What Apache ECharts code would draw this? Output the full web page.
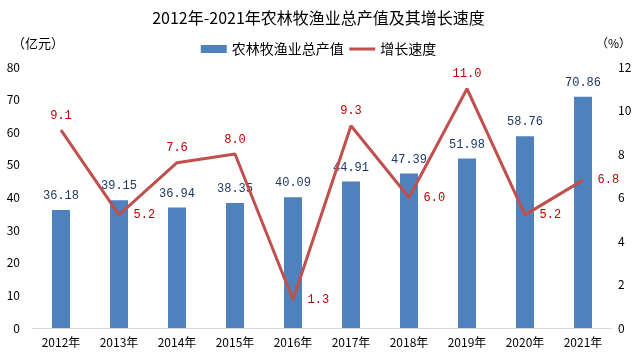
<!DOCTYPE html>
<html><head><meta charset="utf-8">
<script src="https://cdn.jsdelivr.net/npm/echarts@6/dist/echarts.min.js"></script>
<style>html,body{margin:0;padding:0;background:#fff}#c{width:637px;height:356px}</style>
</head><body><div id="c"></div>
<script>
const categories = ['2012年','2013年','2014年','2015年','2016年','2017年','2018年','2019年','2020年','2021年'];
const outputValues = [36.18,39.15,36.94,38.35,40.09,44.91,47.39,51.98,58.76,70.86];
const growthRates = [9.1,5.2,7.6,8.0,1.3,9.3,6.0,11.0,5.2,6.8];
const growthLabelPos = ['top','right','top','top','right','top','right','top','right','right'];
const leftTicks = [0,10,20,30,40,50,60,70,80];
const rightTicks = [0,2,4,6,8,10,12];

const font = '"Noto Sans CJK SC", "Noto Sans", sans-serif';
const mono = '"Liberation Mono", "DejaVu Sans Mono", monospace';
const chart = echarts.init(document.getElementById('c'));
chart.setOption({
  animation: false,
  textStyle: {fontFamily: font},
  title: {text: '2012年-2021年农林牧渔业总产值及其增长速度', left: 'center', top: 5,
    textStyle: {fontSize: 16, fontWeight: 'normal', color: '#000', fontFamily: font}},
  legend: {top: 37, left: 'center', itemWidth: 26, itemHeight: 8, itemGap: 4,
    textStyle: {fontSize: 14, color: '#000'},
    data: [{name: '农林牧渔业总产值', icon: 'rect'},
           {name: '增长速度', itemStyle: {opacity: 0}, lineStyle: {color: '#c0504d', width: 3, opacity: 1}}]},
  graphic: [
    {type: 'text', left: 12, top: 37, style: {text: '（亿元）', font: '13px ' + font, fill: '#000'}},
    {type: 'text', left: 596, top: 37, style: {text: '（%）', font: '12px ' + font, fill: '#000'}}
  ],
  grid: {left: 32, right: 25, top: 67, bottom: 28},
  xAxis: {type: 'category', data: categories,
    axisLine: {lineStyle: {color: '#d9d9d9'}}, axisTick: {show: false},
    axisLabel: {color: '#000', fontSize: 12, margin: 8}},
  yAxis: [
    {type: 'value', min: 0, max: 80, interval: 10, splitLine: {show: false},
      axisLabel: {color: '#000', fontSize: 12, margin: 12}, axisLine: {show: false}},
    {type: 'value', min: 0, max: 12, interval: 2, splitLine: {show: false},
      axisLabel: {color: '#000', fontSize: 12, margin: 6}, axisLine: {show: false}}
  ],
  series: [
    {name: '农林牧渔业总产值', type: 'bar', data: outputValues, barWidth: 18,
      itemStyle: {color: '#4f81bd'},
      label: {show: true, position: 'top', distance: 8, color: '#1f3864', fontSize: 12, fontFamily: mono,
        formatter: p => p.value.toFixed(2)}},
    {name: '增长速度', type: 'line', yAxisIndex: 1, showSymbol: true, symbol: 'circle', symbolSize: 1,
      data: growthRates.map((v, i) => ({value: v, label: {position: growthLabelPos[i],
        distance: growthLabelPos[i] === 'right' ? 14 : 8}})),
      lineStyle: {color: '#c0504d', width: 3}, itemStyle: {color: '#c0504d'},
      label: {show: true, color: '#c00000', fontSize: 12, fontFamily: mono,
        formatter: p => p.value.toFixed(1)}}
  ]
});
</script></body></html>
